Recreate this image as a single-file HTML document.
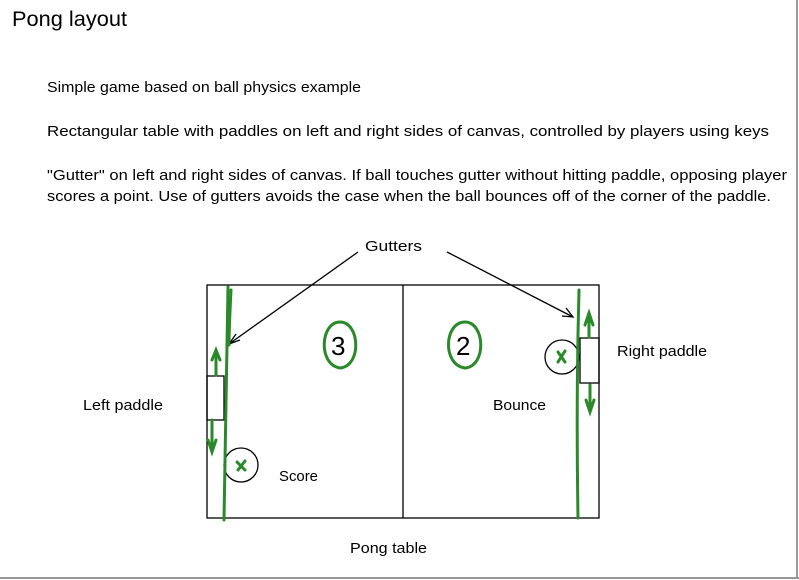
<!DOCTYPE html>
<html><head><meta charset="utf-8"><style>
body{margin:0;background:#fff;}
svg{display:block;font-family:"Liberation Sans",sans-serif;}
</style></head><body>
<svg width="799" height="580" viewBox="0 0 799 580">
<rect x="0" y="0" width="799" height="580" fill="#fff"/>
<line x1="797" y1="0" x2="797" y2="578" stroke="#999" stroke-width="2"/>
<line x1="0" y1="578" x2="799" y2="578" stroke="#999" stroke-width="2"/>
<text x="12" y="26" font-size="21" textLength="115" lengthAdjust="spacingAndGlyphs" fill="#000">Pong layout</text>
<g font-size="14.5" fill="#000">
<text x="47" y="92" textLength="314" lengthAdjust="spacingAndGlyphs">Simple game based on ball physics example</text>
<text x="47" y="136" textLength="722" lengthAdjust="spacingAndGlyphs">Rectangular table with paddles on left and right sides of canvas, controlled by players using keys</text>
<text x="47" y="180" textLength="740" lengthAdjust="spacingAndGlyphs">"Gutter" on left and right sides of canvas. If ball touches gutter without hitting paddle, opposing player</text>
<text x="47" y="201" textLength="724" lengthAdjust="spacingAndGlyphs">scores a point.  Use of gutters avoids the case when the ball bounces off of the corner of the paddle.</text>
<text x="365" y="251" textLength="57" lengthAdjust="spacingAndGlyphs">Gutters</text>
<text x="83" y="410" textLength="80" lengthAdjust="spacingAndGlyphs">Left paddle</text>
<text x="617" y="356" textLength="90" lengthAdjust="spacingAndGlyphs">Right paddle</text>
<text x="493" y="410" textLength="53" lengthAdjust="spacingAndGlyphs">Bounce</text>
<text x="279" y="481" textLength="39" lengthAdjust="spacingAndGlyphs">Score</text>
<text x="350" y="553" textLength="77" lengthAdjust="spacingAndGlyphs">Pong table</text>
</g>
<g stroke="#000" stroke-width="1.3" fill="none">
<rect x="207" y="285" width="392" height="233"/>
<line x1="403" y1="285" x2="403" y2="518"/>
<rect x="207" y="376" width="17" height="44"/>
<rect x="580" y="338" width="19" height="45"/>
<line x1="358" y1="252" x2="229" y2="344"/>
<polyline points="236,334 229,344 240,340"/>
<line x1="447" y1="252" x2="573" y2="317"/>
<polyline points="562,316 573,317 566,308"/>
<circle cx="241" cy="465" r="17"/>
<circle cx="562" cy="357" r="17"/>
</g>
<g stroke="#2a8a2a" stroke-width="3" fill="none" stroke-linecap="round">
<path d="M228 287 Q226 400 224 520"/>
<path d="M231 290 Q229 330 229 345" />
<path d="M579 290 Q576 400 578 518"/>
<path d="M216 350 L216 375 M212 360 L216 350 L220 360"/>
<path d="M212 420 L212 450 M208 440 L212 452 L216 440"/>
<path d="M589 315 L589 337 M585 325 L589 313 L593 325"/>
<path d="M590 385 L590 410 M586 400 L590 412 L594 400"/>
<path d="M237 462 L245 470 M245 461 L238 470"/>
<path d="M558 352 L565 362 M565 351 L558 362"/>
<path d="M340 322 C320 322 318 365 340 368 C362 366 360 322 340 322"/>
<path d="M465 322 C444 322 442 365 465 368 C487 366 485 322 465 322"/>
</g>
<text x="331" y="355" font-size="26" fill="#000">3</text>
<text x="456" y="355" font-size="26" fill="#000">2</text>
</svg>
</body></html>
